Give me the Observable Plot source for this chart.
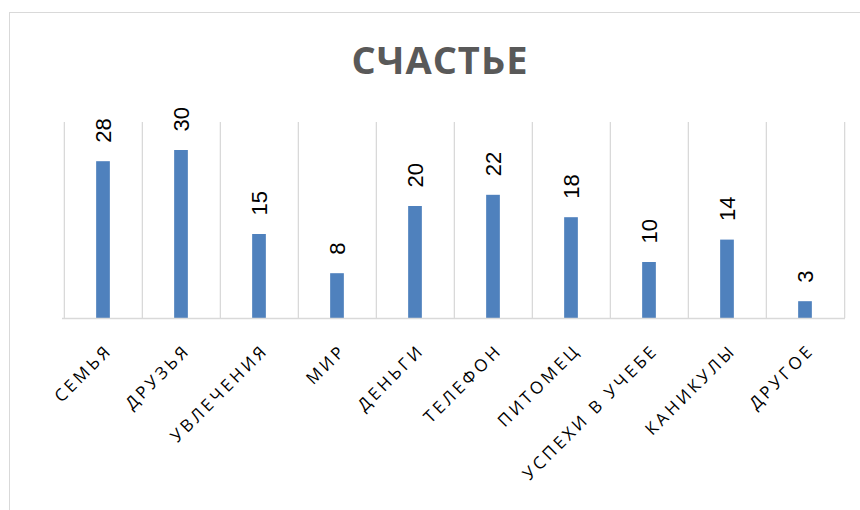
<!DOCTYPE html>
<html>
<head>
<meta charset="utf-8">
<script src="https://cdn.jsdelivr.net/npm/d3@7"></script>
<script src="https://cdn.jsdelivr.net/npm/@observablehq/plot@0.6"></script>
<style>
  html, body { margin: 0; padding: 0; background: #fff; }
  #wrap { position: relative; width: 860px; height: 510px; overflow: hidden; }
  #frame { position: absolute; left: 9px; top: 12px; width: 1000px; height: 1000px;
           border-left: 1.5px solid #d9d9d9; border-top: 1.5px solid #d9d9d9; }
  #title { position: relative; height: 95px; box-sizing: border-box; padding-top: 40px; padding-left: 20px;
           text-align: center; font: bold 38px/38px "Open Sans", sans-serif; letter-spacing: 1px; color: #595959; }
  #chart { position: relative; }
  g[font-family="Open Sans"] { letter-spacing: 3.3px; }
</style>
</head>
<body>
<div id="wrap">
  <div id="frame"></div>
  <div id="title">СЧАСТЬЕ</div>
  <div id="chart"></div>
</div>
<script>
const categories = ["СЕМЬЯ", "ДРУЗЬЯ", "УВЛЕЧЕНИЯ", "МИР", "ДЕНЬГИ", "ТЕЛЕФОН", "ПИТОМЕЦ", "УСПЕХИ В УЧЕБЕ", "КАНИКУЛЫ", "ДРУГОЕ"];
const values = [28, 30, 15, 8, 20, 22, 18, 10, 14, 3];
const yMax = 35;

const data = categories.map((c, i) => ({category: c, value: values[i]}));

const W = 860, H = 415, mL = 62, mR = 15, mT = 27, mB = 192;
const bw = (W - mL - mR) / categories.length;
const grid = "#d9d9d9";

const chart = Plot.plot({
  width: W, height: H,
  marginLeft: mL, marginRight: mR, marginTop: mT, marginBottom: mB,
  style: {background: "transparent", overflow: "visible"},
  x: {type: "band", domain: categories, padding: 0, axis: null},
  y: {domain: [0, yMax], axis: null},
  marks: [
    Plot.ruleX(categories, {x: d => d, y1: 0, y2: yMax, dx: -bw / 2, stroke: grid, strokeWidth: 1.3}),
    Plot.ruleX([categories[categories.length - 1]], {x: d => d, y1: 0, y2: yMax, dx: bw / 2, stroke: grid, strokeWidth: 1.3}),
    Plot.barY(data, {x: "category", y: "value", fill: "#4f81bd", insetLeft: (bw - 14) / 2, insetRight: (bw - 14) / 2}),
    Plot.ruleY([0], {stroke: grid, strokeWidth: 1.5}),
    Plot.text(data, {x: "category", y: "value", text: d => String(d.value), rotate: -90, textAnchor: "start",
      lineAnchor: "middle", dy: -19, fontSize: 22, fontFamily: "Liberation Sans", fill: "#000"}),
    Plot.text(categories, {x: d => d, frameAnchor: "bottom", text: d => d, rotate: -45, textAnchor: "end",
      lineAnchor: "middle", dx: 6, dy: 29, fontSize: 17, fontFamily: "Open Sans", fill: "#000"})
  ]
});
document.getElementById("chart").appendChild(chart);
</script>
</body>
</html>
